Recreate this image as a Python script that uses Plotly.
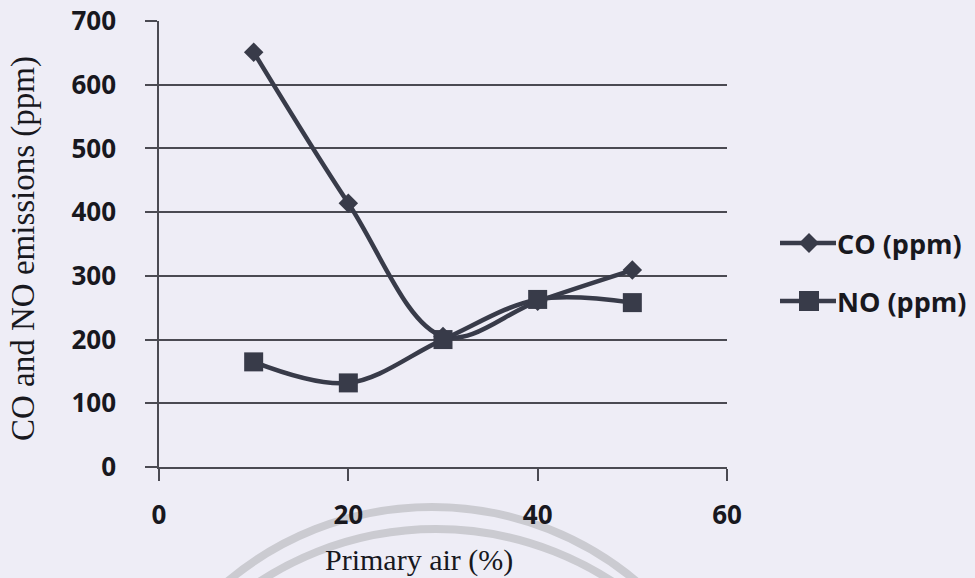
import plotly.graph_objects as go

# Emissions versus primary air share
primary_air = [10, 20, 30, 40, 50]
co_ppm = [651, 414, 205, 260, 309]
no_ppm = [165, 132, 200, 263, 258]

series_names = ["CO (ppm)", "NO (ppm)"]
x_ticks = [0, 20, 40, 60]
y_ticks = [0, 100, 200, 300, 400, 500, 600, 700]

INK = "#383b49"
BG = "#eeedf6"
GRID = "#4a4a52"
TEXT = "#18181e"
SANS = "Open Sans, Lato, sans-serif"
SERIF = "Liberation Serif, Times New Roman, serif"
TICK_FONT = dict(family=SANS, size=26, color=TEXT, weight="bold")

W, H = 975, 578
L, R, T, B = 159, 248, 21, 111


def px_x(p):
    return (p - L) / (W - L - R)


def px_y(p):
    return (H - B - p) / (H - T - B)


fig = go.Figure()
fig.add_trace(go.Scatter(
    x=primary_air, y=co_ppm, name=series_names[0], mode="lines+markers",
    line=dict(color=INK, width=4.5, shape="spline", smoothing=1),
    marker=dict(symbol="diamond", size=15, color=INK),
))
fig.add_trace(go.Scatter(
    x=primary_air, y=no_ppm, name=series_names[1], mode="lines+markers",
    line=dict(color=INK, width=4.5, shape="spline", smoothing=1),
    marker=dict(symbol="square", size=19, color=INK),
))

shapes = []

# faint circular stamp along the lower edge
for cx, cy, r in ((432, 825, 318), (436, 851, 322)):
    shapes.append(dict(
        type="circle", xref="paper", yref="paper", layer="below",
        x0=px_x(cx - r), x1=px_x(cx + r), y0=px_y(cy + r), y1=px_y(cy - r),
        line=dict(color="#cbcbd1", width=8),
    ))

# legend keys: line segment with the series symbol in the middle
annotations = []
key_rows = [(243, "M-10,0L0,10L10,0L0,-10Z"), (301, "M-10,-10L10,-10L10,10L-10,10Z")]
for name, (ky, sym) in zip(series_names, key_rows):
    shapes.append(dict(
        type="line", xref="paper", yref="paper",
        x0=px_x(780), x1=px_x(836), y0=px_y(ky), y1=px_y(ky),
        line=dict(color=INK, width=4.5),
    ))
    shapes.append(dict(
        type="path", xref="paper", yref="paper",
        xsizemode="pixel", ysizemode="pixel",
        xanchor=px_x(809), yanchor=px_y(ky),
        path=sym, fillcolor=INK, line=dict(color=INK, width=0),
    ))
    annotations.append(dict(
        text=name, xref="paper", yref="paper",
        x=px_x(835), y=px_y(ky), xanchor="left", yanchor="middle",
        showarrow=False, font=dict(family=SANS, size=27, color=TEXT, weight="bold"),
    ))

annotations += [
    dict(text="Primary air (%)", xref="paper", yref="paper",
         x=px_x(419), y=px_y(560), xanchor="center", yanchor="middle",
         showarrow=False, font=dict(family=SERIF, size=30, color=TEXT)),
    dict(text="CO and NO emissions (ppm)", xref="paper", yref="paper",
         x=px_x(24), y=px_y(249), xanchor="center", yanchor="middle",
         textangle=-90, showarrow=False, font=dict(family=SERIF, size=33, color=TEXT)),
]

fig.update_layout(
    width=W, height=H,
    margin=dict(l=L, r=R, t=T, b=B, autoexpand=False),
    paper_bgcolor=BG, plot_bgcolor=BG,
    showlegend=False,
    shapes=shapes,
    annotations=annotations,
)
fig.update_xaxes(
    range=[0, 60], tickvals=x_ticks, showgrid=False, zeroline=False, automargin=False,
    showline=True, linecolor=GRID, linewidth=1.5,
    ticks="outside", ticklen=12, tickwidth=1.5, tickcolor=GRID,
    ticklabelstandoff=12, tickfont=TICK_FONT,
)
fig.update_yaxes(
    range=[0, 700], tickvals=y_ticks, showgrid=True, gridcolor=GRID, gridwidth=1.5,
    zeroline=False, showline=True, linecolor=GRID, linewidth=1.5, automargin=False,
    ticks="outside", ticklen=12, tickwidth=1.5, tickcolor=GRID,
    ticklabelstandoff=24, tickfont=TICK_FONT,
)

fig.write_html("out.html")
